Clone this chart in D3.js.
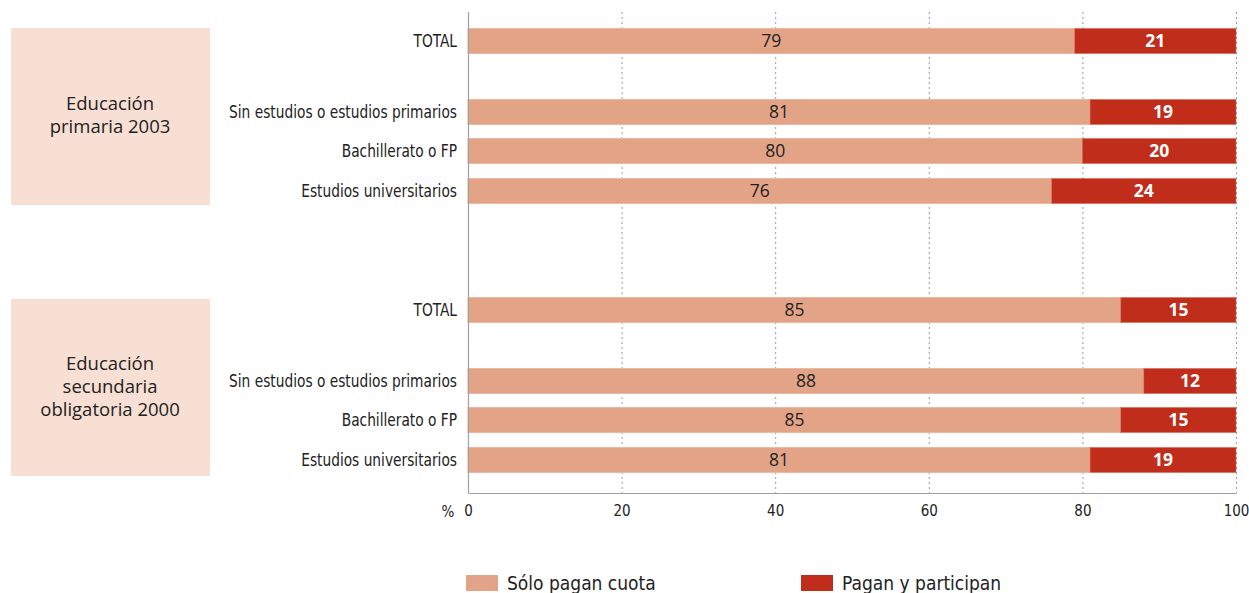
<!DOCTYPE html>
<html><head><meta charset="utf-8">
<script src="https://cdn.jsdelivr.net/npm/d3@7"></script>
<style>
body{margin:0;background:#fff;}
.cond{font-family:"Liberation Sans Narrow","DejaVu Sans Condensed","Roboto Condensed",sans-serif;}
</style></head><body>
<svg id="c" width="1249" height="593"></svg>
<script>
const groups = ["Educación primaria 2003", "Educación secundaria obligatoria 2000"];
const groupLines = [["Educación","primaria 2003"],["Educación","secundaria","obligatoria 2000"]];
const categories = ["TOTAL","Sin estudios o estudios primarios","Bachillerato o FP","Estudios universitarios"];
const soloPagan = [[79,81,80,76],[85,88,85,81]];
const paganParticipan = [[21,19,20,24],[15,12,15,19]];
const xTicks = [0,20,40,60,80,100];
const seriesNames = ["Sólo pagan cuota","Pagan y participan"];
const colors = ["#E3A386","#C02D1A"];

const svg = d3.select("#c");
const x = d3.scaleLinear().domain([0,100]).range([468,1236]);
const groupTop = [41,310];
const rowOffsets = [0,71,110,150]; // layout offsets of row centers within group
const barH = 25;

// gridlines
svg.append("g").selectAll("line").data(xTicks.slice(1)).join("line")
  .attr("x1",d=>x(d)+0.5).attr("x2",d=>x(d)+0.5).attr("y1",12).attr("y2",493)
  .attr("stroke","#9a9a9a").attr("stroke-width",1).attr("stroke-dasharray","2,3");

// group boxes
const boxes = [{y:28,h:177},{y:299,h:177}];
groups.forEach((g,gi)=>{
  svg.append("rect").attr("x",11).attr("y",boxes[gi].y).attr("width",199).attr("height",boxes[gi].h).attr("fill","#F7DFD3");
  const lines = groupLines[gi];
  const cy = boxes[gi].y + boxes[gi].h/2;
  const lh = 23;
  const t = svg.append("text").attr("text-anchor","middle").attr("font-family","'Open Sans',sans-serif").attr("font-size",18.5).attr("fill","#222");
  lines.forEach((l,li)=>{
    t.append("tspan").attr("x",110).attr("y",cy + (li-(lines.length-1)/2)*lh + 5).text(l);
  });
});

groups.forEach((g,gi)=>{
  categories.forEach((c,ci)=>{
    const yc = groupTop[gi] + rowOffsets[ci];
    const a = soloPagan[gi][ci], b = paganParticipan[gi][ci];
    svg.append("rect").attr("x",x(0)).attr("y",yc-barH/2).attr("width",x(a)-x(0)).attr("height",barH)
      .attr("fill",colors[0]).attr("stroke","#EBB9A2").attr("stroke-width",1);
    svg.append("rect").attr("x",x(a)).attr("y",yc-barH/2).attr("width",x(a+b)-x(a)).attr("height",barH)
      .attr("fill",colors[1]).attr("stroke","#D06A55").attr("stroke-width",0.6);
    svg.append("text").attr("x",(x(0)+x(a))/2).attr("y",yc+6).attr("text-anchor","middle")
      .attr("font-family","'Open Sans',sans-serif").attr("font-size",17.5).attr("fill","#222").text(a);
    svg.append("text").attr("x",(x(a)+x(a+b))/2).attr("y",yc+6).attr("text-anchor","middle")
      .attr("font-family","'Open Sans',sans-serif").attr("font-weight","bold").attr("font-size",17.5).attr("fill","#fff").text(b);
    svg.append("text").attr("class","cond").attr("transform",`translate(457,${yc+6}) scale(0.9,1)`).attr("text-anchor","end")
      .attr("font-size",17).attr("fill","#222").text(c);
  });
});

// axes lines
svg.append("line").attr("x1",468.5).attr("x2",468.5).attr("y1",12).attr("y2",493.5).attr("stroke","#a0a0a0").attr("stroke-width",1.2);
const ax = svg.append("g").attr("transform","translate(0,493)")
  .call(d3.axisBottom(x).tickValues(xTicks).tickSize(0).tickPadding(12));
ax.select(".domain").attr("stroke","#a0a0a0").attr("stroke-width",1.2);
ax.selectAll("text").attr("class","cond").attr("font-size",15).attr("fill","#222");
svg.append("text").attr("class","cond").attr("x",448).attr("y",517).attr("text-anchor","middle").attr("font-size",15).attr("fill","#222").text("%");

// legend
const legX = [466,801];
seriesNames.forEach((s,i)=>{
  svg.append("rect").attr("x",legX[i]).attr("y",575).attr("width",32).attr("height",16).attr("fill",colors[i]);
  svg.append("text").attr("class","cond").attr("x",legX[i]+41).attr("y",590).attr("font-size",19).attr("fill","#222").text(s);
});
</script>
</body></html>
